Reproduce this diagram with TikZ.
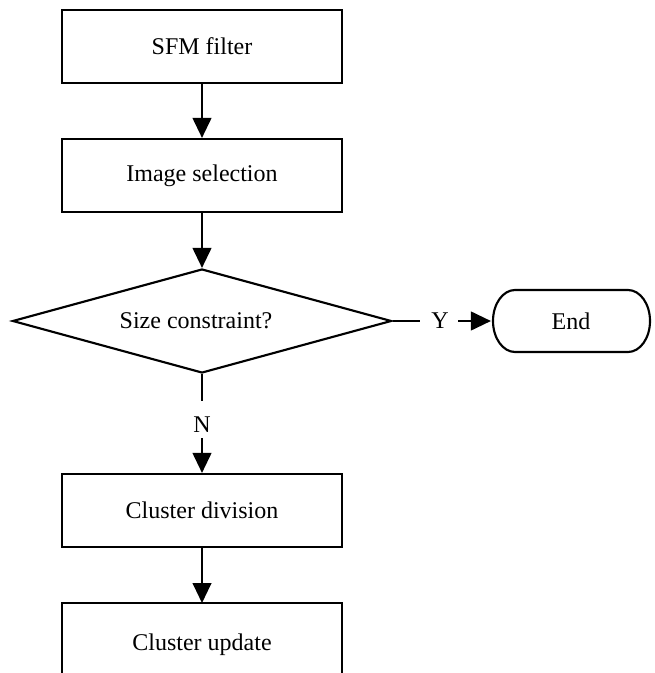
\documentclass[tikz,border=0pt]{standalone}
\usepackage{fontspec}
\setmainfont{Liberation Serif}
\usetikzlibrary{arrows.meta,shapes.geometric}
\begin{document}
\begin{tikzpicture}[x=0.75pt,y=-0.75pt,
  line width=1.6pt,
  every node/.style={font=\fontsize{18}{21}\selectfont},
  procbox/.style={draw, rectangle, minimum width=280*0.75pt, minimum height=73*0.75pt, inner sep=0pt},
  decbox/.style={draw, diamond, minimum width=379*0.75pt, minimum height=104*0.75pt, inner sep=0pt},
  arr/.style={-{Triangle[length=15pt,width=14pt]}},
  lbl/.style={inner sep=0pt}
]
\useasboundingbox (0,0) rectangle (654,673);
\clip (0,0) rectangle (654,673);

\node[procbox] (sfm) at (202,46.5) {SFM filter};
\node[procbox] (sel) at (202,175.5) {Image selection};
\node[decbox] (dec) at (202,321) {};
\node at (196,321) {Size constraint?};
\node[procbox] (div) at (202,510.5) {Cluster division};

% End terminal with elliptical ends
\node[minimum width=158*0.75pt, minimum height=62*0.75pt, inner sep=0pt] (end) at (571,321) {End};
\draw (515,290) -- (628,290) arc[start angle=90, end angle=-90, x radius=16.5pt, y radius=23.25pt]
      -- (515,352) arc[start angle=270, end angle=90, x radius=16.5pt, y radius=23.25pt] -- cycle;

% Cluster update (cut off at bottom)
\coordinate (updtop) at (202,603);
\node (upd) at (202,645) {Cluster update};
\draw (62,680) |- (updtop) -| (342,680);

% Connectors
\draw[arr] (sfm.south) -- (sel.north);
\draw[arr] (sel.south) -- (dec.north);

\node[lbl] (Y) at (440,321) {Y};
\draw (dec.east) -- (420,321) coordinate (yend);
\draw[arr] (458,321) coordinate (ystart) -- (end.west);

\node[lbl] (N) at (202,425) {N};
\draw (dec.south) -- (202,401) coordinate (nend);
\draw[arr] (202,438) coordinate (nstart) -- (div.north);

\draw[arr] (div.south) -- (updtop);
\end{tikzpicture}
\end{document}
